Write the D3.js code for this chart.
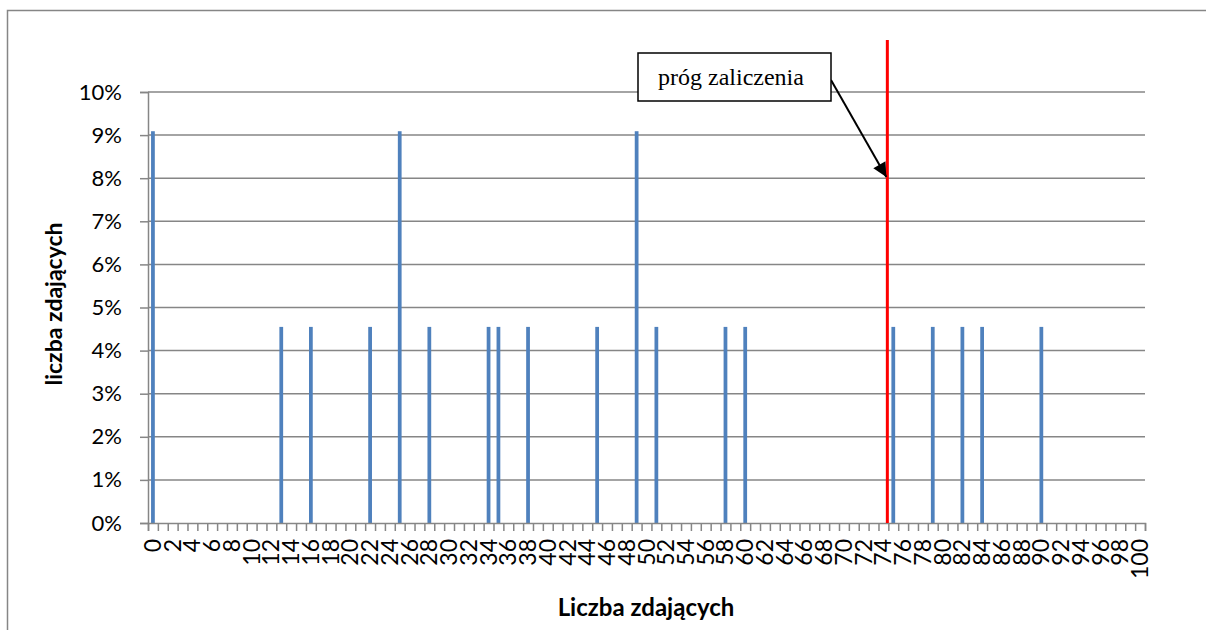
<!DOCTYPE html>
<html><head><meta charset="utf-8">
<script src="https://cdn.jsdelivr.net/npm/d3@7"></script>
<style>html,body{margin:0;padding:0;background:#fff;}svg{display:block;}</style>
</head><body>
<script>
// ---- data ----
const categories = d3.range(0, 101); // score categories 0..100
const scores = [0, 13, 16, 22, 25, 28, 34, 35, 38, 45, 49, 51, 58, 60, 75, 79, 82, 84, 90];
const shares = [0.0909, 0.0455, 0.0455, 0.0455, 0.0909, 0.0455, 0.0455, 0.0455, 0.0455, 0.0455, 0.0909, 0.0455, 0.0455, 0.0455, 0.0455, 0.0455, 0.0455, 0.0455, 0.0455];
const yTicks = [0, 0.01, 0.02, 0.03, 0.04, 0.05, 0.06, 0.07, 0.08, 0.09, 0.10];
const xTickLabels = ["0","2","4","6","8","10","12","14","16","18","20","22","24","26","28","30","32","34","36","38","40","42","44","46","48","50","52","54","56","58","60","62","64","66","68","70","72","74","76","78","80","82","84","86","88","90","92","94","96","98","100"];
const threshold = 75; // boundary between 74 and 75
const annotationText = "próg zaliczenia";
const xTitle = "Liczba zdających";
const yTitle = "liczba zdających";

const W = 1206, H = 630;
const L = 148, R = 1145, T = 92, B = 523;
const FONT = "Lato, 'Liberation Sans', sans-serif";

const svg = d3.select("body").append("svg").attr("width", W).attr("height", H);

// outer frame
svg.append("rect").attr("x", 7.5).attr("y", 10.5).attr("width", W + 10).attr("height", H + 10)
  .attr("fill", "none").attr("stroke", "#868686").attr("stroke-width", 1.5);

const x = d3.scaleBand().domain(categories).range([L, R]).paddingInner(0.62).paddingOuter(0.31);
const xb = d3.scaleLinear().domain([0, categories.length]).range([L, R]);
const y = d3.scaleLinear().domain([0, 0.10]).range([B, T]);

// gridlines
svg.append("g").selectAll("line").data(yTicks.filter(d => d > 0)).join("line")
  .attr("x1", L).attr("x2", R).attr("y1", d => y(d)).attr("y2", d => y(d))
  .attr("stroke", "#868686").attr("stroke-width", 1.5);

// y axis
const yAxis = svg.append("g").attr("transform", `translate(${L},0)`)
  .call(d3.axisLeft(y).tickValues(yTicks).tickFormat(d3.format(".0%")).tickSize(8).tickPadding(18));
yAxis.select(".domain").attr("stroke", "#868686").attr("stroke-width", 1.5);
yAxis.selectAll(".tick line").attr("stroke", "#868686").attr("stroke-width", 1.5);
yAxis.selectAll("text").attr("font-family", FONT).attr("font-size", 22).attr("fill", "#000");

// bars
svg.append("g").selectAll("rect").data(scores.map((s, i) => ({s, v: shares[i]}))).join("rect")
  .attr("x", d => x(d.s)).attr("width", x.bandwidth())
  .attr("y", d => y(d.v)).attr("height", d => B - y(d.v))
  .attr("fill", "#4f81bd");

// x axis boundary ticks
const xAxis = svg.append("g").attr("transform", `translate(0,${B})`)
  .call(d3.axisBottom(xb).tickValues(d3.range(0, categories.length + 1)).tickFormat("").tickSize(8));
xAxis.select(".domain").attr("stroke", "#868686").attr("stroke-width", 1.5);
xAxis.selectAll(".tick line").attr("stroke", "#868686").attr("stroke-width", 1.5);

// x labels (rotated)
svg.append("g").selectAll("text").data(xTickLabels).join("text")
  .attr("transform", d => `translate(${x(+d) + x.bandwidth() / 2 + 8},${B + 16}) rotate(-90)`)
  .attr("text-anchor", "end")
  .attr("font-family", FONT).attr("font-size", 23).attr("fill", "#000")
  .text(d => d);

// threshold line
svg.append("line").attr("x1", xb(threshold) - 1).attr("x2", xb(threshold) - 1).attr("y1", 40).attr("y2", B)
  .attr("stroke", "#ff0000").attr("stroke-width", 3);

// annotation
svg.append("defs").append("marker").attr("id", "arr").attr("viewBox", "0 0 10 10")
  .attr("refX", 10).attr("refY", 5).attr("markerWidth", 16).attr("markerHeight", 14)
  .attr("markerUnits", "userSpaceOnUse").attr("orient", "auto")
  .append("path").attr("d", "M0,0 L10,5 L0,10 z").attr("fill", "#000");
svg.append("line").attr("x1", 831).attr("y1", 80).attr("x2", xb(threshold) - 2).attr("y2", 177)
  .attr("stroke", "#000").attr("stroke-width", 2).attr("marker-end", "url(#arr)");
svg.append("rect").attr("x", 638).attr("y", 53).attr("width", 193).attr("height", 48)
  .attr("fill", "#fff").attr("stroke", "#000").attr("stroke-width", 1.5);
svg.append("text").attr("x", 731).attr("y", 85).attr("text-anchor", "middle")
  .attr("font-family", "'Liberation Serif', 'Times New Roman', serif").attr("font-size", 24).attr("fill", "#000")
  .text(annotationText);

// axis titles
svg.append("text").attr("x", 646).attr("y", 616).attr("text-anchor", "middle")
  .attr("font-family", FONT).attr("font-weight", "bold").attr("font-size", 24)
  .text(xTitle);
svg.append("text").attr("transform", `translate(62,304) rotate(-90)`).attr("text-anchor", "middle")
  .attr("font-family", FONT).attr("font-weight", "bold").attr("font-size", 23)
  .text(yTitle);
</script>
</body></html>
